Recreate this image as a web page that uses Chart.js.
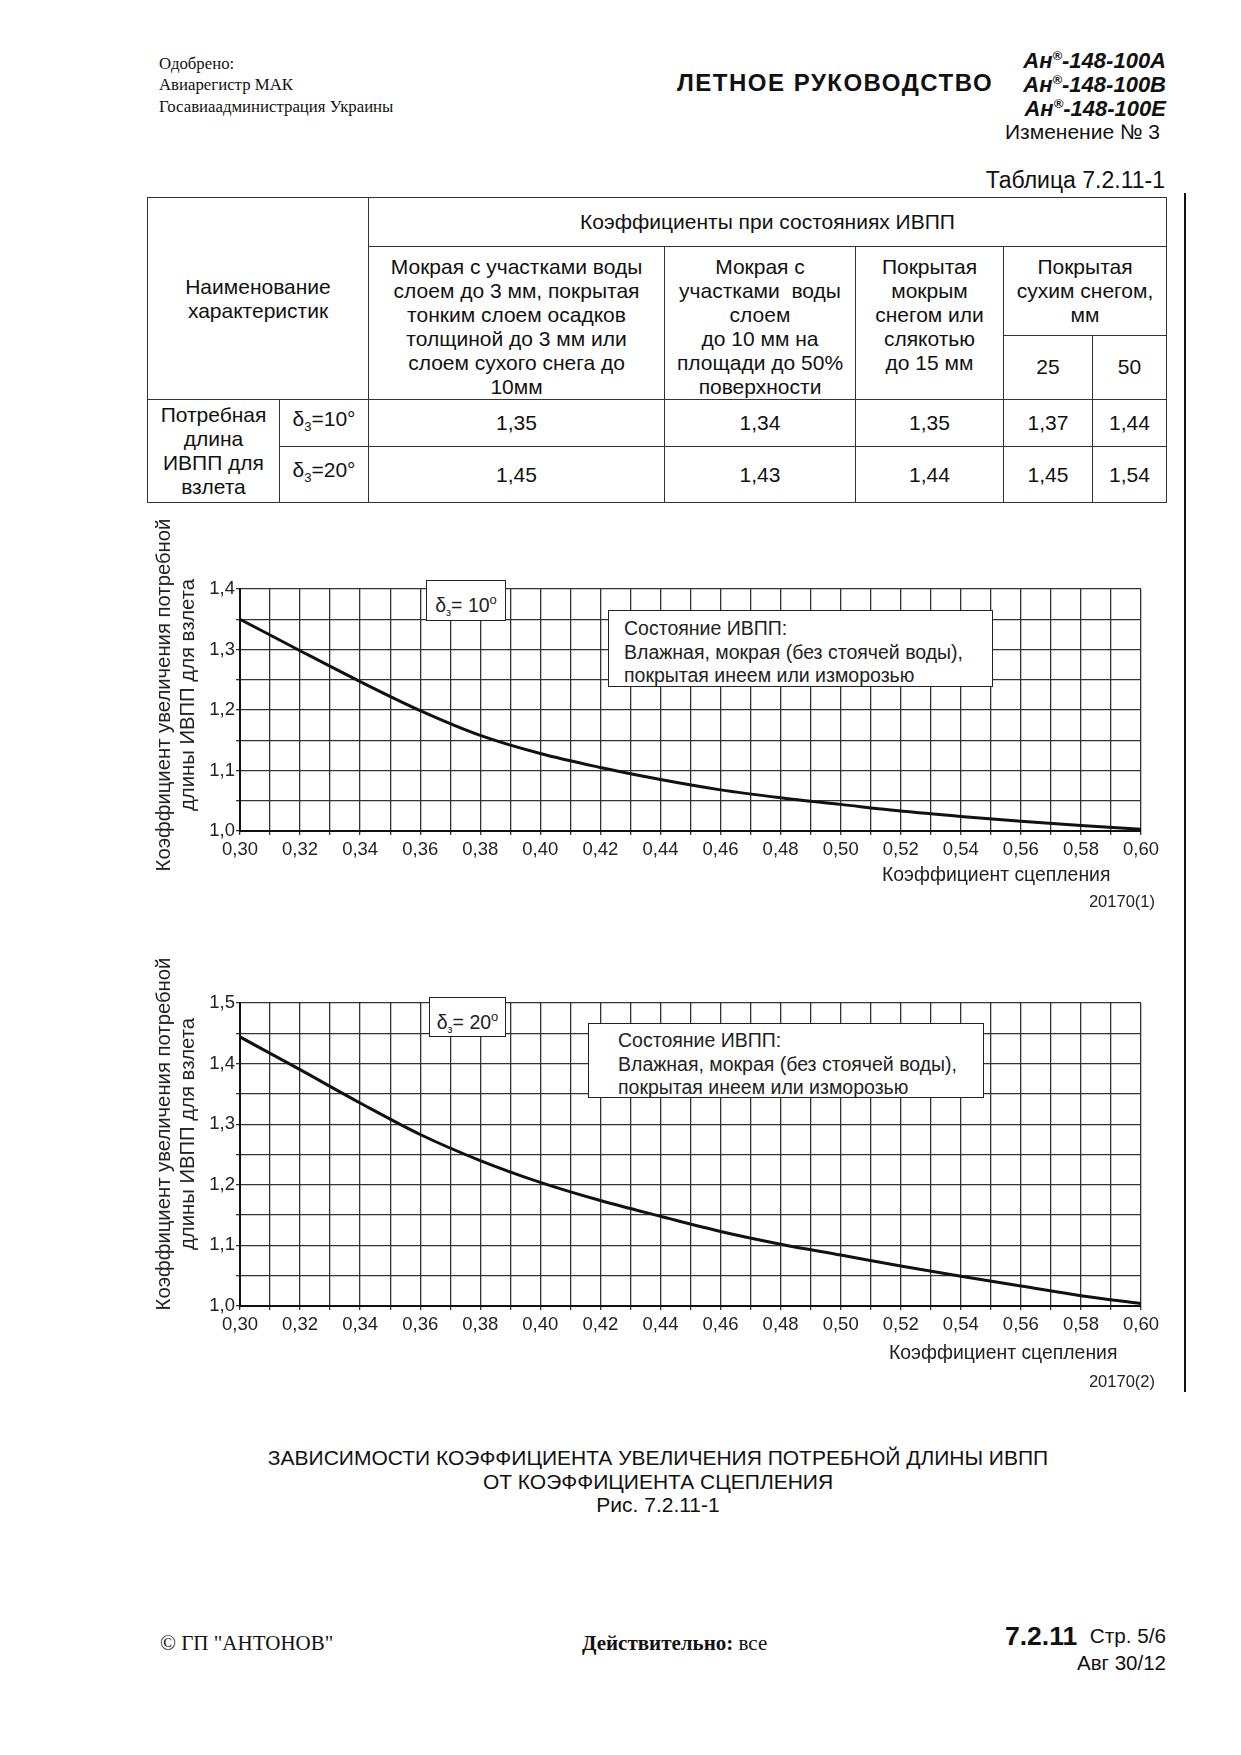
<!DOCTYPE html>
<html lang="ru">
<head>
<meta charset="utf-8">
<title>Рис. 7.2.11-1</title>
<script src="https://cdn.jsdelivr.net/npm/chart.js@4.4.1/dist/chart.umd.min.js"></script>
<style>
    body { margin: 0; background: #fff; }
    #page { position: relative; width: 1241px; height: 1755px; background: #fff; color: #111; font-family: "Liberation Sans", Arial, sans-serif; overflow: hidden; }
    .abs { position: absolute; white-space: nowrap; }
    .serif { font-family: "Liberation Serif", "Times New Roman", serif; }
    .right { text-align: right; }
    table.coef { position: absolute; left: 147px; top: 197px; border-collapse: collapse; table-layout: fixed; font-size: 21px; line-height: 24px; }
    table.coef td { border: 1.5px solid #333; text-align: center; vertical-align: middle; padding: 0; white-space: nowrap; }
    table.coef td.top { vertical-align: top; padding-top: 8px; }
    .box { position: absolute; background: #fff; border: 1.5px solid #222; box-sizing: border-box; color: #222; }
    .chartwrap { position: absolute; }
    .ytitle { position: absolute; width: 400px; text-align: center; font-size: 20.3px; line-height: 24px; color: #222; transform: rotate(-90deg); }
</style>
</head>
<body>
<div id="page">

    <!-- header -->
    <div class="abs serif" style="left:159px; top:55px; font-size:16.8px; line-height:18px;">Одобрено:</div>
    <div class="abs serif" style="left:159px; top:76px; font-size:16.8px; line-height:18px;">Авиарегистр МАК</div>
    <div class="abs serif" style="left:159px; top:98px; font-size:16.8px; line-height:18px;">Госавиаадминистрация Украины</div>
    <div class="abs" style="left:677px; top:69px; font-size:24px; line-height:28px; font-weight:bold; letter-spacing:1.5px;">ЛЕТНОЕ РУКОВОДСТВО</div>
    <div class="abs right" style="right:75px; top:43px; font-size:22px; line-height:26px; font-weight:bold; font-style:italic;">Ан<sup style="font-size:13px;">®</sup>-148-100A</div>
    <div class="abs right" style="right:75px; top:67px; font-size:22px; line-height:26px; font-weight:bold; font-style:italic;">Ан<sup style="font-size:13px;">®</sup>-148-100B</div>
    <div class="abs right" style="right:75px; top:91px; font-size:22px; line-height:26px; font-weight:bold; font-style:italic;">Ан<sup style="font-size:13px;">®</sup>-148-100E</div>
    <div class="abs right" style="right:81px; top:119px; font-size:21px; line-height:26px;">Изменение № 3</div>
    <div class="abs right" style="right:76px; top:167px; font-size:23px; line-height:27px;">Таблица 7.2.11-1</div>

    <!-- right margin line -->
    <div class="abs" style="left:1184px; top:193px; width:2px; height:1199px; background:#111;"></div>

    <!-- table -->
    <table class="coef">
        <colgroup>
            <col style="width:132px"><col style="width:89px"><col style="width:296px"><col style="width:191px"><col style="width:148px"><col style="width:89px"><col style="width:74px">
        </colgroup>
        <tr style="height:49px">
            <td colspan="2" rowspan="3">Наименование<br>характеристик</td>
            <td colspan="5">Коэффициенты при состояниях ИВПП</td>
        </tr>
        <tr style="height:88px">
            <td rowspan="2" class="top">Мокрая с участками воды<br>слоем до 3 мм, покрытая<br>тонким слоем осадков<br>толщиной до 3 мм или<br>слоем сухого снега до<br>10мм</td>
            <td rowspan="2" class="top">Мокрая с<br>участками&nbsp; воды<br>слоем<br>до 10 мм на<br>площади до 50%<br>поверхности</td>
            <td rowspan="2" class="top">Покрытая<br>мокрым<br>снегом или<br>слякотью<br>до 15 мм</td>
            <td colspan="2">Покрытая<br>сухим снегом,<br>мм</td>
        </tr>
        <tr style="height:64px">
            <td>25</td>
            <td>50</td>
        </tr>
        <tr style="height:47px">
            <td rowspan="2">Потребная<br>длина<br>ИВПП для<br>взлета</td>
            <td>δ<sub style="font-size:13px;">3</sub>=10°</td>
            <td id="r1c1"></td><td id="r1c2"></td><td id="r1c3"></td><td id="r1c4"></td><td id="r1c5"></td>
        </tr>
        <tr style="height:56px">
            <td>δ<sub style="font-size:13px;">3</sub>=20°</td>
            <td id="r2c1"></td><td id="r2c2"></td><td id="r2c3"></td><td id="r2c4"></td><td id="r2c5"></td>
        </tr>
    </table>

    <!-- chart 1 -->
    <div class="chartwrap" style="left:140px; top:560px; width:1040px; height:320px;">
        <canvas id="chart-1" width="1040" height="320"></canvas>
    </div>
    <div class="ytitle" style="left:-25px; top:671px;">Коэффициент увеличения потребной<br>длины ИВПП для взлета</div>
    <div class="box" style="left:426px; top:580px; width:80px; height:41px; font-size:19.5px; line-height:38px; text-align:center;">δ<sub style="font-size:11px;">з</sub>= 10<sup style="font-size:13px;">o</sup></div>
    <div class="box" style="left:608px; top:610px; width:385px; height:77px; font-size:19.5px; line-height:23.5px; padding:6px 0 0 15px;">Состояние ИВПП:<br>Влажная, мокрая (без стоячей воды),<br>покрытая инеем или изморозью</div>
    <div class="abs" style="left:882px; top:863px; font-size:19.4px; line-height:23px; color:#222;">Коэффициент сцепления</div>
    <div class="abs right" style="right:86px; top:891px; font-size:16.5px; line-height:20px; color:#222;">20170(1)</div>

    <!-- chart 2 -->
    <div class="chartwrap" style="left:140px; top:970px; width:1040px; height:385px;">
        <canvas id="chart-2" width="1040" height="385"></canvas>
    </div>
    <div class="ytitle" style="left:-25px; top:1110px;">Коэффициент увеличения потребной<br>длины ИВПП для взлета</div>
    <div class="box" style="left:429px; top:997px; width:77px; height:40px; font-size:19.5px; line-height:37px; text-align:center;">δ<sub style="font-size:11px;">з</sub>= 20<sup style="font-size:13px;">o</sup></div>
    <div class="box" style="left:588px; top:1023px; width:396px; height:75px; font-size:19.5px; line-height:23.5px; padding:5px 0 0 29px;">Состояние ИВПП:<br>Влажная, мокрая (без стоячей воды),<br>покрытая инеем или изморозью</div>
    <div class="abs" style="left:889px; top:1341px; font-size:19.4px; line-height:23px; color:#222;">Коэффициент сцепления</div>
    <div class="abs right" style="right:86px; top:1371px; font-size:16.5px; line-height:20px; color:#222;">20170(2)</div>

    <!-- caption -->
    <div class="abs" style="left:158px; width:1000px; top:1446px; text-align:center; font-size:21px; line-height:23.5px;">ЗАВИСИМОСТИ КОЭФФИЦИЕНТА УВЕЛИЧЕНИЯ ПОТРЕБНОЙ ДЛИНЫ ИВПП<br>ОТ КОЭФФИЦИЕНТА СЦЕПЛЕНИЯ<br>Рис. 7.2.11-1</div>

    <!-- footer -->
    <div class="abs serif" style="left:160px; top:1631px; font-size:21px; line-height:25px;">© ГП "АНТОНОВ"</div>
    <div class="abs serif" style="left:582px; top:1631px; font-size:21px; line-height:25px;"><b>Действительно:</b> все</div>
    <div class="abs" style="left:1005px; top:1621px; font-size:26.5px; line-height:30px; font-weight:bold;">7.2.11</div>
    <div class="abs right" style="right:75px; top:1623px; font-size:20.7px; line-height:25px;">Стр. 5/6</div>
    <div class="abs right" style="right:75px; top:1650px; font-size:20.5px; line-height:25px;">Авг 30/12</div>
</div>

<script>
    // table values (δз = 10°, δз = 20°)
    var tableRow10 = ['1,35', '1,34', '1,35', '1,37', '1,44'];
    var tableRow20 = ['1,45', '1,43', '1,44', '1,45', '1,54'];

    // curves
    var frictionX = [0.30, 0.32, 0.34, 0.36, 0.38, 0.40, 0.42, 0.44, 0.46, 0.48, 0.50, 0.52, 0.54, 0.56, 0.58, 0.60];
    var coef10 = [1.350, 1.298, 1.247, 1.199, 1.158, 1.128, 1.105, 1.085, 1.068, 1.055, 1.044, 1.033, 1.024, 1.016, 1.009, 1.003];
    var coef20 = [1.444, 1.390, 1.335, 1.283, 1.240, 1.204, 1.174, 1.148, 1.123, 1.102, 1.084, 1.066, 1.049, 1.033, 1.017, 1.004];

    // axis ranges / tick labels
    var xMin = 0.30, xMax = 0.60, xStep = 0.01;
    var yMin = 1.0;
    var yMax1 = 1.4, yMax2 = 1.5, yStep = 0.05;

    for (var i = 0; i < tableRow10.length; i++) {
        document.getElementById('r1c' + (i + 1)).textContent = tableRow10[i];
        document.getElementById('r2c' + (i + 1)).textContent = tableRow20[i];
    }

    function toPoints(xs, ys) {
        var pts = [];
        for (var i = 0; i < xs.length; i++) {
            pts.push({ x: xs[i], y: ys[i] });
        }
        return pts;
    }

    function createCurveChart(id, values, yMax, padTop, axisHeight) {
        var ctx = document.getElementById(id).getContext('2d');
        return new Chart(ctx, {
            type: 'line',
            data: {
                datasets: [{
                    data: toPoints(frictionX, values),
                    borderColor: '#111',
                    borderWidth: 3,
                    pointRadius: 0,
                    fill: false,
                    cubicInterpolationMode: 'monotone'
                }]
            },
            options: {
                responsive: false,
                animation: false,
                events: [],
                layout: { padding: { left: 0, right: 39, top: padTop, bottom: 0 } },
                plugins: { legend: { display: false }, tooltip: { enabled: false } },
                scales: {
                    x: {
                        type: 'linear',
                        min: xMin,
                        max: xMax,
                        afterFit: function (scale) { scale.height = axisHeight; },
                        grid: { color: '#333', lineWidth: 1.3, tickLength: 4, drawTicks: true },
                        border: { color: '#111', width: 2 },
                        ticks: {
                            stepSize: xStep,
                            autoSkip: false,
                            maxRotation: 0,
                            minRotation: 0,
                            padding: 4,
                            color: '#222',
                            font: { family: 'Liberation Sans', size: 18.5 },
                            callback: function (value, index) {
                                return index % 2 === 0 ? Number(value).toFixed(2).replace('.', ',') : '';
                            }
                        }
                    },
                    y: {
                        min: yMin,
                        max: yMax,
                        afterFit: function (scale) { scale.width = 100; },
                        grid: { color: '#333', lineWidth: 1.3, tickLength: 4, drawTicks: true },
                        border: { color: '#111', width: 2 },
                        ticks: {
                            stepSize: yStep,
                            autoSkip: false,
                            padding: 1,
                            color: '#222',
                            font: { family: 'Liberation Sans', size: 18.5 },
                            callback: function (value, index) {
                                return index % 2 === 0 ? Number(value).toFixed(1).replace('.', ',') : '';
                            }
                        }
                    }
                }
            }
        });
    }

    createCurveChart('chart-1', coef10, yMax1, 29, 49);
    createCurveChart('chart-2', coef20, yMax2, 33, 49);
</script>
</body>
</html>
